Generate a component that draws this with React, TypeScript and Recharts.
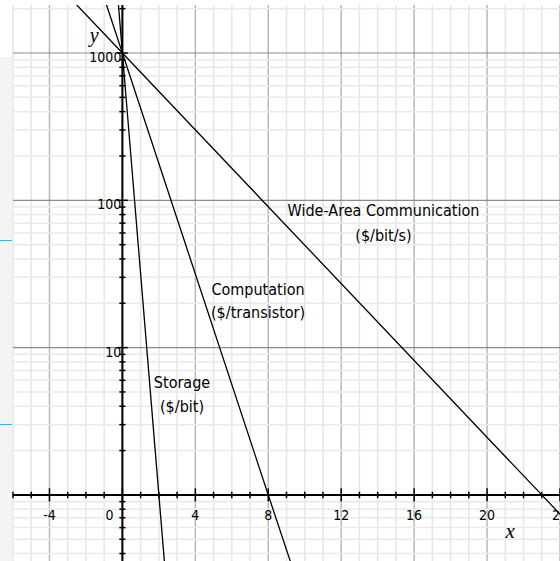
import React from "react";
import { LineChart, Line, XAxis, YAxis, ReferenceLine, ReferenceDot } from "recharts";

// ---- data ----
const storage = [
  { x: -0.4, y: 4000 },
  { x: 0, y: 1000 },
  { x: 2, y: 1 },
  { x: 2.5, y: 0.18 },
];
const computation = [
  { x: -1, y: 2370 },
  { x: 0, y: 1000 },
  { x: 8, y: 1 },
  { x: 10, y: 0.18 },
];
const wideArea = [
  { x: -4, y: 3320 },
  { x: 0, y: 1000 },
  { x: 23, y: 1 },
  { x: 24, y: 0.74 },
];

const xGrid = [-6, -5, -4, -3, -2, -1, 0, 1, 2, 3, 4, 5, 6, 7, 8, 9, 10, 11, 12, 13, 14, 15, 16, 17, 18, 19, 20, 21, 22, 23, 24];
const xMajor = [-4, 0, 4, 8, 12, 16, 20, 24];
const xTickLabels = ["-4", "0", "4", "8", "12", "16", "20", "24"];
const yGrid = [
  0.4, 0.5, 0.6, 0.7, 0.8, 0.9,
  1, 2, 3, 4, 5, 6, 7, 8, 9,
  10, 20, 30, 40, 50, 60, 70, 80, 90,
  100, 200, 300, 400, 500, 600, 700, 800, 900,
  1000, 2000,
];
const yDecades = [1, 10, 100, 1000];
const yTickLabels = ["10", "100", "1000"];
const yLabelValues = [10, 100, 1000];

const labelFont = "'Liberation Sans Narrow', 'DejaVu Sans Condensed', 'Liberation Sans', Arial, sans-serif";

const W = 560;
const H = 561;

const dec = (d: number) => Math.pow(10, d);

export default function App() {
  const textShape = (lines: string[], opts: { anchor?: string; dx?: number; dy?: number; size?: number; family?: string; italic?: boolean; lh?: number }) =>
    (p: any) => (
      <text
        x={p.cx + (opts.dx || 0)}
        y={p.cy + (opts.dy || 0)}
        textAnchor={(opts.anchor as any) || "middle"}
        fontSize={opts.size || 12}
        fontFamily={opts.family || labelFont}
        fontStyle={opts.italic ? "italic" : "normal"}
        fill="#000"
      >
        {lines.map((l, i) => (
          <tspan key={i} x={p.cx + (opts.dx || 0)} dy={i === 0 ? 0 : opts.lh || 25}>
            {l}
          </tspan>
        ))}
      </text>
    );

  return (
    <div style={{ position: "absolute", left: 0, top: 0, width: W, height: H, background: "#fff", overflow: "hidden" }}>
      <div style={{ position: "absolute", left: 0, top: 57, width: 12, height: H - 57, background: "#f4f4f4" }} />
      <div style={{ position: "absolute", left: 0, top: 240, width: 12, height: 1, background: "#3cb3e6" }} />
      <div style={{ position: "absolute", left: 0, top: 424, width: 12, height: 1, background: "#3cb3e6" }} />
      <div style={{ position: "absolute", left: 0, top: 0 }}>
        <LineChart width={W} height={H} margin={{ top: 5, right: 0, left: 13, bottom: 0 }}>
          <XAxis type="number" dataKey="x" domain={[-6, 24]} allowDataOverflow hide />
          <YAxis type="number" dataKey="y" scale="log" domain={[0.356, 2118]} allowDataOverflow hide />

          {xGrid.map((v) => (
            <ReferenceLine
              key={"gx" + v}
              x={v}
              stroke={xMajor.includes(v) ? "#b8b8b8" : "#e6e6e6"}
              strokeWidth={1.5}
            />
          ))}
          {yGrid.map((v) => (
            <ReferenceLine
              key={"gy" + v}
              y={v}
              stroke={yDecades.includes(v) ? "#8c8c8c" : "#eaeaea"}
              strokeWidth={yDecades.includes(v) ? 1.2 : 1.5}
            />
          ))}

          <ReferenceLine x={0} stroke="#000" strokeWidth={2} />
          <ReferenceLine y={1} stroke="#000" strokeWidth={2} />

          {xGrid.map((v) => {
            const h = xMajor.includes(v) ? 0.045 : 0.022;
            return (
              <ReferenceLine
                key={"tx" + v}
                segment={[{ x: v, y: dec(-h) }, { x: v, y: dec(h) }]}
                stroke="#000"
                strokeWidth={1.5}
              />
            );
          })}
          {yGrid.map((v) => {
            const w = yDecades.includes(v) ? 0.3 : 0.17;
            return (
              <ReferenceLine
                key={"ty" + v}
                segment={[{ x: -w, y: v }, { x: w, y: v }]}
                stroke="#000"
                strokeWidth={1.5}
              />
            );
          })}

          <Line data={storage} dataKey="y" stroke="#000" strokeWidth={1.3} dot={false} isAnimationActive={false} />
          <Line data={computation} dataKey="y" stroke="#000" strokeWidth={1.3} dot={false} isAnimationActive={false} />
          <Line data={wideArea} dataKey="y" stroke="#000" strokeWidth={1.3} dot={false} isAnimationActive={false} />

          {xMajor.map((v, i) => (
            <ReferenceDot
              key={"lx" + v}
              x={v}
              y={1}
              r={0}
              shape={textShape([xTickLabels[i]], { dy: 25, dx: v === 0 ? -13 : 0, size: 14 })}
            />
          ))}
          {yLabelValues.map((v, i) => (
            <ReferenceDot
              key={"ly" + v}
              x={0}
              y={v}
              r={0}
              shape={textShape([yTickLabels[i]], { anchor: "end", dx: -1, dy: 9, size: 14 })}
            />
          ))}

          <ReferenceDot x={-1.55} y={1190} r={0} shape={textShape(["y"], { size: 20, italic: true, family: "'Liberation Serif', 'DejaVu Serif', serif" })} />
          <ReferenceDot x={21.26} y={0.51} r={0} shape={textShape(["x"], { size: 21, italic: true, family: "'Liberation Serif', 'DejaVu Serif', serif" })} />

          <ReferenceDot x={14.32} y={78.4} r={0} shape={textShape(["Wide-Area Communication", "($/bit/s)"], { size: 16, lh: 25 })} />
          <ReferenceDot x={7.44} y={22.8} r={0} shape={textShape(["Computation", "($/transistor)"], { size: 16, lh: 23 })} />
          <ReferenceDot x={3.27} y={5.33} r={0} shape={textShape(["Storage", "($/bit)"], { size: 16, lh: 24 })} />
        </LineChart>
      </div>
    </div>
  );
}
